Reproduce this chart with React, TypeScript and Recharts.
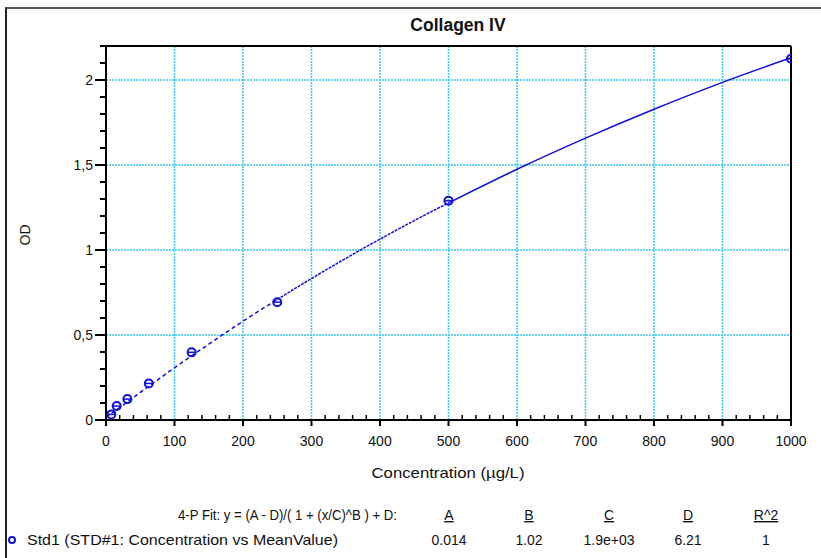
import React from 'react';
import {
  ComposedChart,
  Line,
  Scatter,
  XAxis,
  YAxis,
  CartesianGrid,
  ReferenceLine,
} from 'recharts';

// Standard points (concentration µg/L vs mean OD)
const stdConc = [7.8, 15.6, 31.25, 62.5, 125, 250, 500, 1000];
const stdOD = [0.033, 0.082, 0.123, 0.215, 0.398, 0.693, 1.29, 2.125];

// 4-P fit curve (three drawn segments)
const fitLowX = [0, 25, 50, 100, 150, 200, 250];
const fitLowY = [0.014, 0.088, 0.162, 0.307, 0.446, 0.581, 0.709];
const fitMidX = [250, 300, 350, 400, 450, 500];
const fitMidY = [0.709, 0.832, 0.951, 1.064, 1.173, 1.277];
const fitHighX = [500, 600, 700, 800, 900, 1000];
const fitHighY = [1.277, 1.475, 1.658, 1.828, 1.986, 2.131];

// Axis ticks
const xTicks = [
  0, 20, 40, 60, 80, 100, 120, 140, 160, 180, 200, 220, 240, 260, 280, 300, 320, 340, 360, 380, 400,
  420, 440, 460, 480, 500, 520, 540, 560, 580, 600, 620, 640, 660, 680, 700, 720, 740, 760, 780, 800,
  820, 840, 860, 880, 900, 920, 940, 960, 980, 1000,
];
const xMajor = [0, 100, 200, 300, 400, 500, 600, 700, 800, 900, 1000];
const xGrid = [100, 200, 300, 400, 500, 600, 700, 800, 900];
const yTicks = [
  0, 0.1, 0.2, 0.3, 0.4, 0.5, 0.6, 0.7, 0.8, 0.9, 1, 1.1, 1.2, 1.3, 1.4, 1.5, 1.6, 1.7, 1.8, 1.9, 2,
  2.1, 2.2,
];
const yMajor = [0, 0.5, 1, 1.5, 2];
const yLabels = ['0', '0,5', '1', '1,5', '2'];
const yGrid = [0.5, 1, 1.5, 2];

// Texts
const title = 'Collagen IV';
const xLabel = 'Concentration (µg/L)';
const yLabel = 'OD';
const fitLabel = '4-P Fit: y = (A - D)/( 1 + (x/C)^B ) + D:';
const seriesLabel = 'Std1 (STD#1: Concentration vs MeanValue)';
const paramNames = ['A', 'B', 'C', 'D', 'R^2'];
const paramValues = ['0.014', '1.02', '1.9e+03', '6.21', '1'];
const paramCenters = [449, 529, 609, 688, 766];

const toPts = (xs: number[], ys: number[]) => xs.map((x, i) => ({ x, y: ys[i] }));
const stdData = toPts(stdConc, stdOD);
const lowData = toPts(fitLowX, fitLowY);
const midData = toPts(fitMidX, fitMidY);
const highData = toPts(fitHighX, fitHighY);

const FONT = '"Liberation Sans", Arial, sans-serif';
const BLUE = '#1010d8';
const GRID = '#38c8f4';
const TXT = '#111';

const XTick = (props: any) => {
  const { x, y, payload } = props;
  const v = payload.value;
  const major = xMajor.includes(v);
  return (
    <g>
      {major ? (
        <line x1={x} x2={x} y1={y} y2={y + 6} stroke="#000" strokeWidth={2} />
      ) : (
        <line x1={x} x2={x} y1={y} y2={y - 5} stroke="#000" strokeWidth={1.5} />
      )}
      {major && (
        <text x={x} y={y + 26} textAnchor="middle" fontFamily={FONT} fontSize={14} fill={TXT}>
          {v}
        </text>
      )}
    </g>
  );
};

const YTick = (props: any) => {
  const { x, y, payload } = props;
  const v = payload.value;
  const idx = yMajor.findIndex((m) => Math.abs(m - v) < 1e-6);
  const major = idx >= 0;
  return (
    <g>
      <line x1={x - (major ? 11 : 6)} x2={x} y1={y} y2={y} stroke="#000" strokeWidth={2} />
      {major && (
        <text x={x - 13} y={y + 5} textAnchor="end" fontFamily={FONT} fontSize={14} fill={TXT}>
          {yLabels[idx]}
        </text>
      )}
    </g>
  );
};

const Marker = (props: any) => {
  const { cx, cy } = props;
  if (cx == null || cy == null) return null;
  return (
    <g>
      <circle cx={cx} cy={cy} r={4} fill="none" stroke={BLUE} strokeWidth={2} />
      <line x1={cx - 4} x2={cx + 4} y1={cy} y2={cy} stroke={BLUE} strokeWidth={1.5} />
    </g>
  );
};

export default function App() {
  return (
    <div
      style={{
        position: 'absolute',
        left: 0,
        top: 0,
        width: 821,
        height: 558,
        background: '#fff',
        overflow: 'hidden',
      }}
    >
      <div
        style={{
          position: 'absolute',
          left: 5,
          top: 7,
          width: 900,
          height: 700,
          borderTop: '2px solid #555',
          borderLeft: '2px solid #222',
        }}
      />
      <div style={{ position: 'absolute', left: 0, top: 0 }}>
        <ComposedChart
          width={821}
          height={558}
          margin={{ top: 46, right: 30, bottom: 108, left: 46 }}
        >
          <CartesianGrid
            horizontalValues={yGrid}
            verticalValues={xGrid}
            stroke={GRID}
            strokeWidth={1.5}
            strokeDasharray="2 1"
          />
          <XAxis
            type="number"
            dataKey="x"
            domain={[0, 1000]}
            ticks={xTicks}
            interval={0}
            tickSize={0}
            tickMargin={0}
            tick={<XTick />}
            height={30}
            axisLine={{ stroke: '#000', strokeWidth: 2 }}
            allowDataOverflow
          />
          <YAxis
            type="number"
            dataKey="y"
            domain={[0, 2.2]}
            ticks={yTicks}
            interval={0}
            tickSize={0}
            tickMargin={0}
            tick={<YTick />}
            width={60}
            axisLine={{ stroke: '#000', strokeWidth: 2 }}
            allowDataOverflow
          />
          <ReferenceLine y={2.2} stroke="#000" strokeWidth={2} />
          <ReferenceLine x={1000} stroke="#000" strokeWidth={2} />
          <Line
            data={lowData}
            dataKey="y"
            type="monotone"
            stroke={BLUE}
            strokeWidth={1.5}
            strokeDasharray="4 3"
            dot={false}
            activeDot={false}
            isAnimationActive={false}
          />
          <Line
            data={midData}
            dataKey="y"
            type="monotone"
            stroke={BLUE}
            strokeWidth={1.5}
            strokeDasharray="3 1"
            dot={false}
            activeDot={false}
            isAnimationActive={false}
          />
          <Line
            data={highData}
            dataKey="y"
            type="monotone"
            stroke={BLUE}
            strokeWidth={1.5}
            dot={false}
            activeDot={false}
            isAnimationActive={false}
          />
          <Scatter data={stdData} dataKey="y" shape={<Marker />} isAnimationActive={false} />
        </ComposedChart>
      </div>
      <svg
        width={821}
        height={558}
        style={{ position: 'absolute', left: 0, top: 0, pointerEvents: 'none' }}
        fontFamily={FONT}
      >
        <text x={458} y={31} textAnchor="middle" fontSize={17.5} fontWeight="bold" fill={TXT}>
          {title}
        </text>
        <text
          x={448}
          y={478}
          textAnchor="middle"
          fontSize={15}
          fill={TXT}
          textLength={153}
          lengthAdjust="spacingAndGlyphs"
        >
          {xLabel}
        </text>
        <text
          x={30}
          y={235}
          textAnchor="middle"
          fontSize={14}
          fill={TXT}
          transform="rotate(-90 30 235)"
        >
          {yLabel}
        </text>
        <text
          x={178}
          y={520}
          fontSize={15}
          fill={TXT}
          textLength={219}
          lengthAdjust="spacingAndGlyphs"
        >
          {fitLabel}
        </text>
        {paramNames.map((n, i) => (
          <text
            key={n}
            x={paramCenters[i]}
            y={520}
            textAnchor="middle"
            fontSize={14}
            fill={TXT}
            textDecoration="underline"
          >
            {n}
          </text>
        ))}
        <circle cx={12} cy={540} r={3} fill="none" stroke={BLUE} strokeWidth={2} />
        <text
          x={27}
          y={545}
          fontSize={15}
          fill={TXT}
          textLength={311}
          lengthAdjust="spacingAndGlyphs"
        >
          {seriesLabel}
        </text>
        {paramValues.map((v, i) => (
          <text key={i} x={paramCenters[i]} y={545} textAnchor="middle" fontSize={14} fill={TXT}>
            {v}
          </text>
        ))}
      </svg>
    </div>
  );
}
